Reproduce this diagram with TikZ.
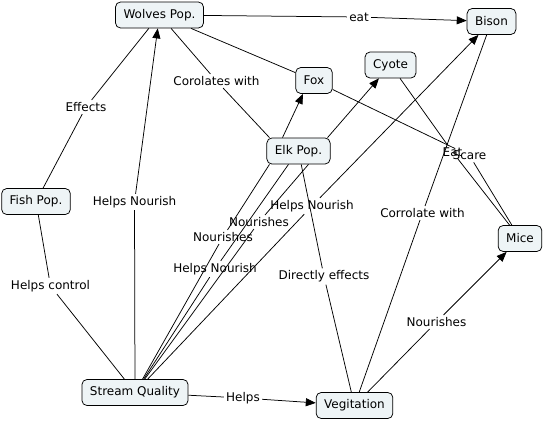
\documentclass[tikz,border=0pt]{standalone}
\usepackage{fontspec}
\setmainfont{DejaVu Sans}
\usepackage{tikz}
\usetikzlibrary{arrows.meta}
\definecolor{conceptfill}{RGB}{238,244,246}

\begin{document}
\begin{tikzpicture}[x=1pt, y=-1pt, >={Triangle[length=10pt,width=8pt]}, line width=0.75pt,
    font=\fontsize{12}{14}\selectfont,
    concept/.style={draw, rounded corners=5pt, fill=conceptfill, inner xsep=8pt, minimum height=26pt},
    phrase/.style={inner sep=2pt}]
    \useasboundingbox (0,0) rectangle (544,421);
    \node[concept] (wolves) at (159.5,15) {Wolves Pop.};
    \node[concept] (bison) at (491.5,21.5) {Bison};
    \node[concept] (fox) at (314,80.5) {Fox};
    \node[concept] (cyote) at (390.5,65) {Cyote};
    \node[concept] (elk) at (298.5,151) {Elk Pop.};
    \node[concept] (fish) at (36,201.5) {Fish Pop.};
    \node[concept] (mice) at (520,238.5) {Mice};
    \node[concept] (stream) at (135,392.5) {Stream Quality};
    \node[concept] (veg) at (354.5,405.5) {Vegitation};
    \node[phrase] (eat) at (359,17) {eat};
    \node[phrase] (corolates) at (216.5,81) {Corolates with};
    \node[phrase] (effects) at (86,107) {Effects};
    \node[phrase] (nourishW) at (134.5,202) {Helps Nourish};
    \node[phrase] (control) at (50.5,286) {Helps control};
    \node[phrase] (helps) at (243,398) {Helps};
    \node[phrase] (direct) at (324,276.5) {Directly effects};
    \node[phrase] (corrolate) at (422.5,213) {Corrolate with};
    \node[phrase] (nourishM) at (436.5,322) {Nourishes};
    \node[phrase] (eatM) at (452.5,152) {Eat};
    \node[phrase] (scare) at (469.5,155.5) {Scare};
    \node[phrase] (nourishA) at (259,222) {Nourishes};
    \node[phrase] (nourishB) at (223,237) {Nourishes};
    \node[phrase] (nourishC) at (215,269) {Helps Nourish};
    \node[phrase] (nourishD) at (312,206) {Helps Nourish};
    \draw (wolves) -- (eat);
    \draw[->] (eat) -- (bison);
    \draw (wolves) -- (corolates);
    \draw (corolates) -- ([xshift=3pt]elk.north west);
    \draw (wolves) -- (fox);
    \draw[->] ([xshift=-16pt]elk.north) -- ([xshift=-11pt]fox.south);
    \draw[->] ([xshift=-3pt]elk.north east) -- (cyote);
    \draw (fox) -- (scare);
    \draw (cyote) -- (eatM);
    \draw (eatM) -- (mice);
    \draw (scare) -- (mice);
    \draw (bison) -- (corrolate);
    \draw (corrolate) -- (veg);
    \draw (elk) -- (direct);
    \draw (direct) -- (veg);
    \draw (veg) -- (nourishM);
    \draw[->] (nourishM) -- (mice);
    \draw (stream) -- (helps);
    \draw[->] (helps) -- (veg);
    \draw (fish) -- (control);
    \draw (control) -- (stream);
    \draw (fish) -- (effects);
    \draw (effects) -- (wolves);
    \draw (stream) -- (nourishW);
    \draw[->] (nourishW) -- (wolves);
    \draw (stream) -- (nourishA);
    \draw (nourishA) -- ([xshift=10pt]elk.south);
    \draw (stream) -- (nourishB);
    \draw (nourishB) -- ([xshift=3pt]elk.south west);
    \draw (stream) -- (nourishC);
    \draw (nourishC) -- ([xshift=-10pt]elk.south);
    \draw (stream) -- (nourishD);
    \draw[->] (nourishD) -- (bison);
\end{tikzpicture}
\end{document}
